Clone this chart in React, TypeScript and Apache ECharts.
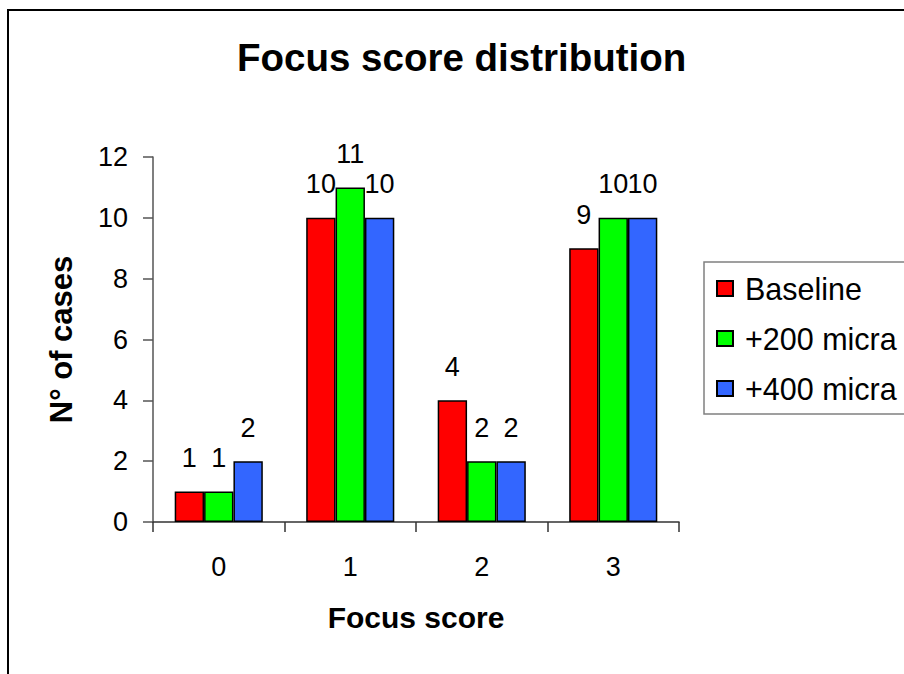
import React, { useEffect, useRef } from "react";
import * as echarts from "echarts";

const categories = ["0", "1", "2", "3"];
const seriesNames = ["Baseline", "+200 micra", "+400 micra"];
const baseline = [1, 10, 4, 9];
const micra200 = [1, 11, 2, 10];
const micra400 = [2, 10, 2, 10];
const colors = ["#FF0000", "#00FF00", "#3366FF"];
const yTicks = { min: 0, max: 12, interval: 2 };

const FONT = "'Liberation Sans', Arial, sans-serif";

export default function App() {
  const ref = useRef<HTMLDivElement>(null);
  useEffect(() => {
    if (!ref.current) return;
    const chart = echarts.init(ref.current, null, { renderer: "svg" });
    const values = [baseline, micra200, micra400];
    chart.setOption({
      animation: false,
      backgroundColor: "#fff",
      textStyle: { fontFamily: FONT },
      title: {
        text: "Focus score distribution",
        left: 237,
        top: 38,
        padding: 0,
        textStyle: { fontFamily: FONT, fontSize: 38.5, fontWeight: "bold", color: "#000" },
      },
      graphic: [
        {
          type: "rect",
          shape: { x: 8, y: 10, width: 1000, height: 1000 },
          style: { fill: "none", stroke: "#000", lineWidth: 2 },
          silent: true,
          z: 100,
        },
      ],
      legend: {
        orient: "vertical",
        left: 704,
        top: 262,
        padding: [11, 20, 10, 12],
        itemWidth: 16,
        itemHeight: 15,
        itemGap: 19,
        borderColor: "#808080",
        borderWidth: 1.5,
        icon: "rect",
        data: seriesNames,
        textStyle: {
          fontFamily: FONT,
          fontSize: 30.5,
          lineHeight: 31,
          color: "#000",
          padding: [0, 0, 0, 7],
        },
      },
      grid: { left: 153, right: 225, top: 157, bottom: 152 },
      xAxis: {
        type: "category",
        data: categories,
        name: "Focus score",
        nameLocation: "middle",
        nameGap: 80,
        nameTextStyle: { fontFamily: FONT, fontSize: 30, fontWeight: "bold", color: "#000" },
        axisLine: { lineStyle: { color: "#333", width: 1.5 } },
        axisTick: { show: true, length: 10, lineStyle: { color: "#333", width: 1.5 } },
        axisLabel: { fontFamily: FONT, fontSize: 27, color: "#000", margin: 31 },
      },
      yAxis: {
        type: "value",
        min: yTicks.min,
        max: yTicks.max,
        interval: yTicks.interval,
        name: "N° of cases",
        nameLocation: "middle",
        nameGap: 76,
        nameTextStyle: { fontFamily: FONT, fontSize: 31, fontWeight: "bold", color: "#000" },
        axisLine: { show: true, lineStyle: { color: "#555", width: 1.5 } },
        axisTick: { show: true, length: 10, lineStyle: { color: "#555", width: 1.5 } },
        splitLine: { show: false },
        axisLabel: { fontFamily: FONT, fontSize: 27, color: "#000", margin: 25 },
      },
      series: seriesNames.map((name, i) => ({
        name,
        type: "bar",
        data: values[i],
        barGap: "0%",
        barCategoryGap: "33%",
        itemStyle: { color: colors[i], borderColor: "#000", borderWidth: 1.5 },
        label: {
          show: true,
          position: "top",
          distance: 20,
          fontFamily: FONT,
          fontSize: 27,
          color: "#000",
        },
      })),
    });
    return () => chart.dispose();
  }, []);
  return (
    <div
      ref={ref}
      style={{ position: "absolute", left: 0, top: 0, width: 904, height: 674 }}
    />
  );
}
